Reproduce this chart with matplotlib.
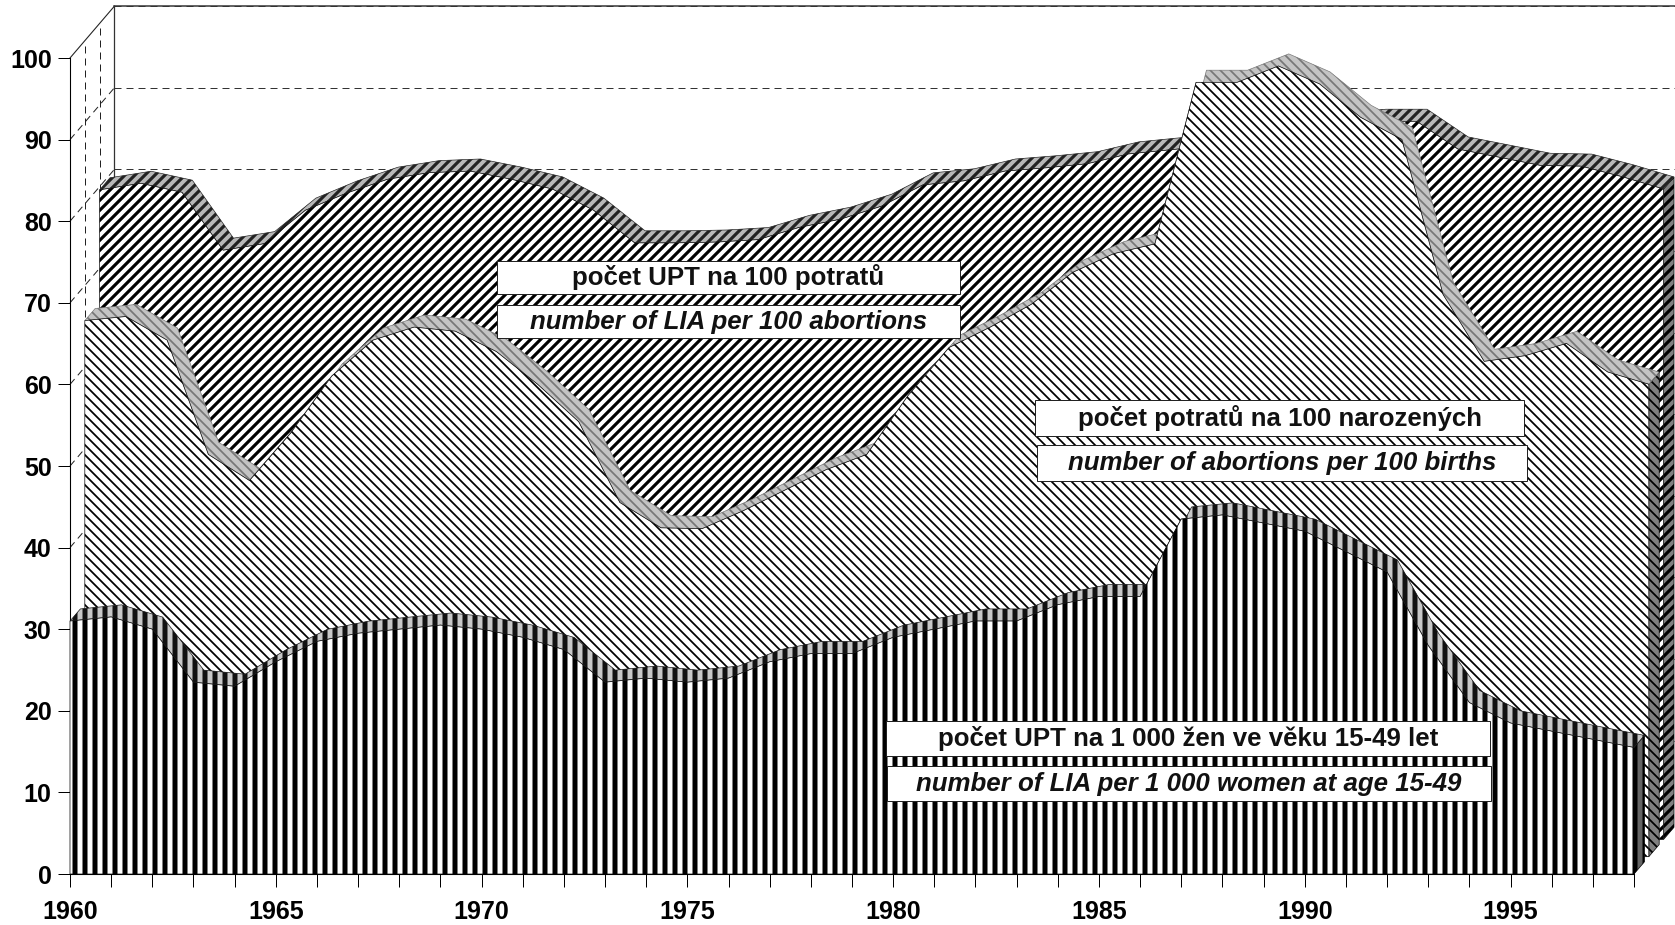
import matplotlib
matplotlib.use('Agg')
import matplotlib.pyplot as plt
from matplotlib.patches import Rectangle
import numpy as np

W, H = 1675, 925
DPI = 60

years = np.arange(1960, 1999)
y_ticks = [0, 10, 20, 30, 40, 50, 60, 70, 80, 90, 100]
x_labels = [str(y) if y % 5 == 0 and y < 1998 else '' for y in years]

# per 1 000 women, front layer
lia_women = [31, 31.5, 30, 23.5, 23, 26, 28.5, 29.5, 30, 30.5, 30, 29, 27.5, 23.5, 24, 23.5, 24,
             26, 27, 27, 29, 30, 31, 31, 33, 34, 34, 43.5, 44, 43, 42, 39.5, 37, 28, 21, 18.5,
             17.5, 16.5, 15.5]
# per 100 births, middle layer
abort_births = [65.7, 66.2, 63.3, 49.3, 46.1, 51.9, 58.9, 63.3, 64.9, 64.4, 61.9, 57.9, 53.3,
                43.4, 40.3, 40.2, 42.4, 44.9, 47.4, 49.3, 56.5, 62.4, 64.9, 67.7, 71.6, 73.9,
                75.1, 94.9, 94.9, 96.9, 94.7, 90.6, 87.9, 68.9, 60.7, 61.4, 62.9, 59.4, 57.9]
# per 100 abortions, back layer
lia_abort = [79.6, 80.4, 79.3, 72.2, 73, 77.1, 79.2, 80.9, 81.7, 81.9, 80.9, 79.7, 77.1, 73.1,
             73.1, 73.2, 73.5, 75, 76, 77.6, 80.2, 80.7, 81.9, 82.3, 82.8, 84, 84.5, 85, 86,
             87, 87.5, 88, 88, 84.6, 83.6, 82.6, 82.5, 81.2, 79.7]

box_labels = [('počet UPT na 100 potratů', 'bold', 'normal', 497, 261, 463, 33),
              ('number of LIA per 100 abortions', 'bold', 'italic', 497, 305, 463, 33),
              ('počet potratů na 100 narozených', 'bold', 'normal', 1035, 400, 489, 36),
              ('number of abortions per 100 births', 'bold', 'italic', 1037, 445, 490, 36),
              ('počet UPT na 1 000 žen ve věku 15-49 let', 'bold', 'normal', 886, 721, 604, 35),
              ('number of LIA per 1 000 women at age 15-49', 'bold', 'italic', 887, 766, 604, 35)]

plt.rcParams['font.family'] = ['Liberation Sans', 'DejaVu Sans']

# depth of one layer of the fake 3D box, in data units
DX = 0.36
DY = 2.12
RIB = 0.7  # ribbon takes this much of a layer

fig = plt.figure(figsize=(W / DPI, H / DPI), dpi=DPI, facecolor='white')
ax = fig.add_axes([70 / W, 1 - 874 / H, 1564 / W, 816 / H])
ax.set_xlim(1960, 1998)
ax.set_ylim(0, 100)
ax.patch.set_visible(False)
for s in ('top', 'right'):
    ax.spines[s].set_visible(False)
ax.spines['left'].set_linewidth(1.3)
ax.spines['bottom'].set_linewidth(1.3)

# walls
bx = 1960 + 3 * DX
by = 3 * DY
for v in y_ticks[1:]:
    ax.plot([bx, 1998 + 3 * DX], [v + by, v + by], color='#333333', lw=1.2, ls=(0, (7, 5)), clip_on=False, zorder=1)
    if v < 100:
        ax.plot([1960, bx], [v, v + by], color='#222222', lw=1.2, ls=(0, (7, 5)), clip_on=False, zorder=1)
for k in (1, 2):
    ax.plot([1960 + k * DX] * 2, [k * DY, 100 + k * DY], color='#222222', lw=1.2, ls=(0, (7, 5)), clip_on=False, zorder=1)
ax.plot([1960, bx], [100, 100 + by], color='#222222', lw=1.3, clip_on=False, zorder=1)
ax.plot([bx, bx], [by, 100 + by], color='#333333', lw=1.5, clip_on=False, zorder=1)
ax.plot([bx, 1998 + 3.2 * DX], [100 + by, 100 + by], color='#333333', lw=1.8, clip_on=False, zorder=1)


def layer(values, n, hatch, hlw, rib_face, rib_edge, side_face, side_hatch, z):
    x = years + n * DX
    base = n * DY
    y = np.array(values) + base
    rx = RIB * DX
    ry = RIB * DY
    plt.rcParams['hatch.linewidth'] = hlw
    # end wall on the right
    ax.fill([x[-1], x[-1] + rx, x[-1] + rx, x[-1]], [base, base + ry, y[-1] + ry, y[-1]],
            facecolor=side_face, edgecolor='black', hatch=side_hatch, lw=0.8, clip_on=False, zorder=z)
    # top ribbon
    ax.fill(np.r_[x, x[::-1] + rx], np.r_[y, y[::-1] + ry], facecolor=rib_face, edgecolor=rib_edge,
            hatch=hatch, lw=0.8, clip_on=False, zorder=z)
    # front face
    ax.fill(np.r_[x[0], x, x[-1]], np.r_[base, y, base], facecolor='white', edgecolor='black',
            hatch=hatch, lw=0.8, clip_on=False, zorder=z + 0.1)


layer(lia_abort, 2, '//', 3.8, '#b8b8b8', '#222222', '#808080', '//', 2)
layer(abort_births, 1, '\\\\', 2.1, '#c4c4c4', '#777777', '#808080', '\\\\', 3)
layer(lia_women, 0, '|', 6, '#c8c8c8', '#111111', '#666666', '|', 4)

ax.set_yticks(y_ticks)
ax.set_xticks(years)
ax.set_xticklabels(x_labels)
ax.tick_params(axis='y', length=14, width=1.2, pad=8, labelsize=30)
ax.tick_params(axis='x', length=16, width=1.2, pad=15, labelsize=30)
for t in ax.get_xticklabels() + ax.get_yticklabels():
    t.set_fontweight('bold')

# caption boxes
for text, weight, style, px, py, pw, ph in box_labels:
    fig.add_artist(Rectangle((px / W, 1 - (py + ph) / H), pw / W, ph / H, transform=fig.transFigure,
                             facecolor='white', edgecolor='#222222', lw=1.2, zorder=5))
    fig.text((px + pw / 2) / W, 1 - (py + ph / 2) / H, text, ha='center', va='center', fontsize=31,
             fontweight=weight, fontstyle=style, color='#111111', zorder=6)

fig.savefig('out.png', dpi=DPI)
